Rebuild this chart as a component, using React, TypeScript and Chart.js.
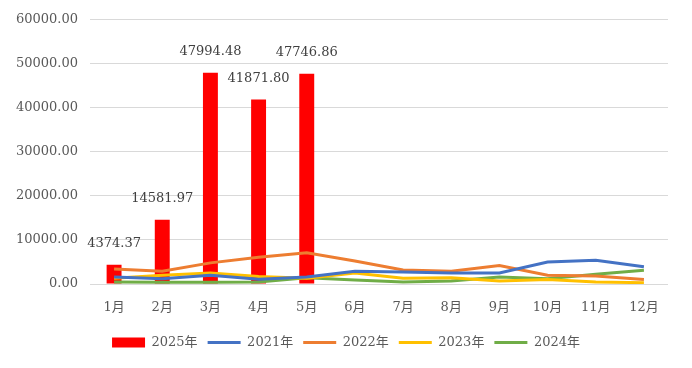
import React, { useEffect, useRef } from "react";
import { Chart, registerables } from "chart.js";

Chart.register(...registerables);

const months = ["1月", "2月", "3月", "4月", "5月", "6月", "7月", "8月", "9月", "10月", "11月", "12月"];
const s2025 = [4374.37, 14581.97, 47994.48, 41871.8, 47746.86, null, null, null, null, null, null, null];
const s2021 = [1600, 1200, 2000, 1100, 1600, 2900, 2700, 2500, 2500, 5000, 5400, 3900];
const s2022 = [3400, 2900, 4800, 6100, 7100, 5200, 3200, 2900, 4200, 2000, 1800, 1000];
const s2023 = [1300, 2000, 2500, 1700, 1300, 2500, 1300, 1400, 700, 1000, 450, 300];
const s2024 = [450, 400, 400, 450, 1400, 900, 450, 700, 1600, 1200, 2200, 3100];
const yTicksMax = 60000;
const yStep = 10000;

const FONT = "'DejaVu Serif', 'Noto Sans CJK SC', serif";

const barLabelPlugin = {
  id: "barLabels",
  afterDatasetsDraw(chart: any) {
    const ctx = chart.ctx;
    const meta = chart.getDatasetMeta(0);
    const data = chart.data.datasets[0].data;
    ctx.save();
    ctx.font = `13px ${FONT}`;
    ctx.fillStyle = "#404040";
    ctx.textAlign = "center";
    ctx.textBaseline = "middle";
    meta.data.forEach((el: any, i: number) => {
      const v = data[i];
      if (v == null) return;
      ctx.fillText(Number(v).toFixed(2), el.x, el.y - 21);
    });
    ctx.restore();
  },
};

export default function App() {
  const ref = useRef<HTMLCanvasElement>(null);
  useEffect(() => {
    if (!ref.current) return;
    const lineDs = (label: string, data: number[], color: string) => ({
      type: "line" as const,
      label,
      data,
      borderColor: color,
      backgroundColor: color,
      borderWidth: 3,
      pointRadius: 0,
      pointHoverRadius: 0,
      tension: 0,
      order: 0,
    });
    const chart = new Chart(ref.current, {
      type: "bar",
      data: {
        labels: months,
        datasets: [
          {
            type: "bar" as const,
            label: "2025年",
            data: s2025 as any,
            backgroundColor: "#FF0000",
            borderWidth: 0,
            barPercentage: 0.31,
            categoryPercentage: 1,
            order: 1,
          },
          lineDs("2021年", s2021, "#4472C4"),
          lineDs("2022年", s2022, "#ED7D31"),
          lineDs("2023年", s2023, "#FFC000"),
          lineDs("2024年", s2024, "#70AD47"),
        ] as any,
      },
      options: {
        animation: false,
        responsive: false,
        maintainAspectRatio: false,
        layout: { padding: { top: 17, left: 0, right: 0, bottom: 9 } },
        plugins: {
          tooltip: { enabled: false },
          legend: {
            position: "bottom",
            labels: {
              usePointStyle: true,
              pointStyleWidth: 33,
              boxHeight: 10,
              padding: 10,
              color: "#595959",
              font: { family: FONT, size: 13 },
              generateLabels(chart: any) {
                return chart.data.datasets.map((ds: any, i: number) => ({
                  text: ds.label,
                  fillStyle: ds.backgroundColor,
                  strokeStyle: ds.type === "bar" ? ds.backgroundColor : ds.borderColor,
                  lineWidth: ds.type === "bar" ? 0 : 3,
                  pointStyle: ds.type === "bar" ? "rect" : "line",
                  fontColor: "#595959",
                  hidden: false,
                  datasetIndex: i,
                }));
              },
            },
          },
        },
        scales: {
          x: {
            grid: { display: false },
            border: { display: false },
            ticks: {
              color: "#595959",
              font: { family: FONT, size: 13 },
              padding: 8,
              maxRotation: 0,
              autoSkip: false,
            },
            afterFit(axis: any) {
              axis.height = 42;
            },
          },
          y: {
            min: 0,
            max: yTicksMax,
            grid: { color: "#D9D9D9", lineWidth: 1, drawTicks: false },
            border: { display: false },
            ticks: {
              stepSize: yStep,
              color: "#595959",
              font: { family: FONT, size: 13 },
              padding: 12,
              callback: (v: any) => Number(v).toFixed(2),
            },
            afterFit(axis: any) {
              axis.width = 90;
            },
          },
          ySpacer: {
            position: "right",
            min: 0,
            max: yTicksMax,
            grid: { display: false, drawTicks: false },
            border: { display: false },
            ticks: { display: false },
            afterFit(axis: any) {
              axis.width = 24;
            },
          },
        },
      },
      plugins: [barLabelPlugin],
    });
    return () => chart.destroy();
  }, []);
  return (
    <div style={{ position: "absolute", left: 0, top: 0, width: 692, height: 368, background: "#fff" }}>
      <canvas ref={ref} width={692} height={368} style={{ width: 692, height: 368 }} />
    </div>
  );
}
